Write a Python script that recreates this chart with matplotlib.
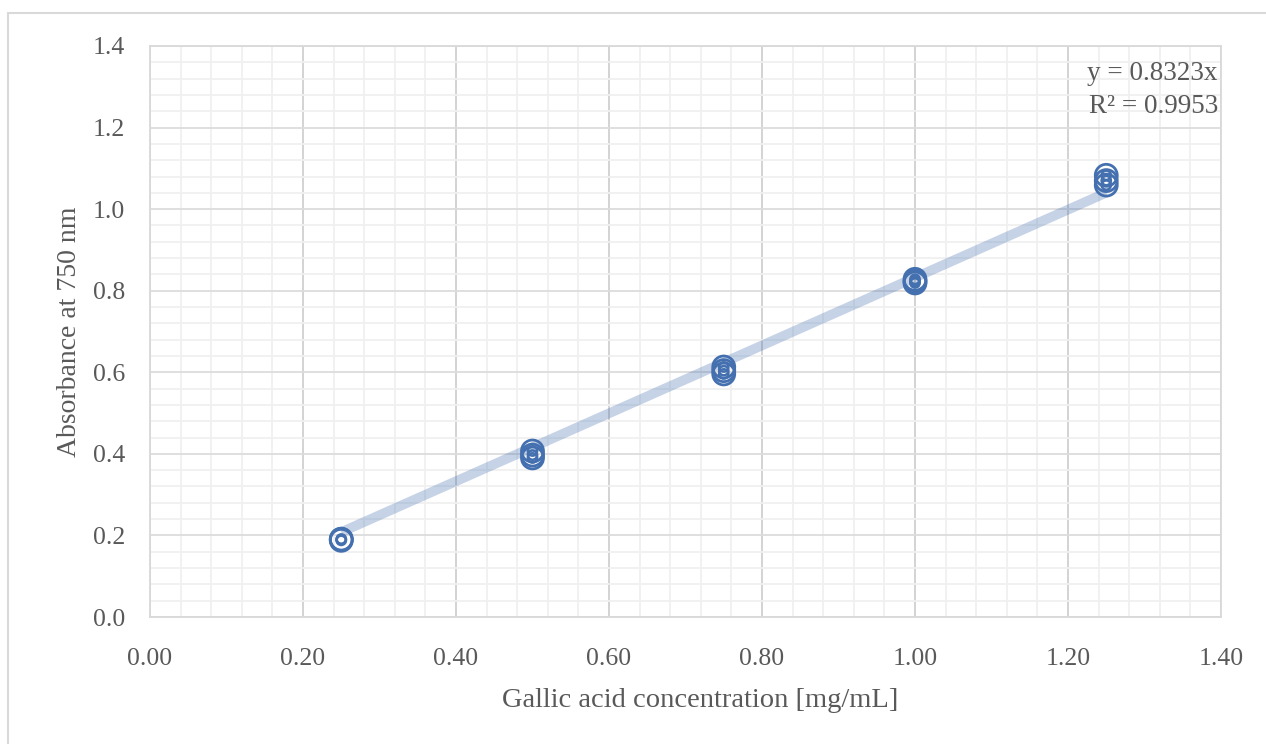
import matplotlib
matplotlib.use("Agg")
import matplotlib.pyplot as plt
from matplotlib.patches import Rectangle
from matplotlib.ticker import MultipleLocator
import numpy as np

# gallic acid standard curve, 3 replicates per level
conc = [0.25, 0.25, 0.25, 0.50, 0.50, 0.50, 0.75, 0.75, 0.75,
        1.00, 1.00, 1.00, 1.25, 1.25, 1.25]
absorb = [0.188, 0.190, 0.191, 0.407, 0.397, 0.390, 0.613, 0.604, 0.596,
          0.828, 0.823, 0.819, 1.083, 1.070, 1.059]
slope = 0.8323
r2 = 0.9953
x_ticks = [0.00, 0.20, 0.40, 0.60, 0.80, 1.00, 1.20, 1.40]
y_ticks = [0.0, 0.2, 0.4, 0.6, 0.8, 1.0, 1.2, 1.4]

plt.rcParams['font.family'] = ['Liberation Serif', 'DejaVu Serif']
txt = '#595959'
blue = '#4470b0'

fig = plt.figure(figsize=(12.66, 7.44), dpi=100)
ax = fig.add_axes([150/1266, 1-617/744, 1071/1266, 571/744])

# outer chart border
fig.patches.append(Rectangle((8/1266, -0.5), 2, 1.5 - 13/744, transform=fig.transFigure,
                             fill=False, edgecolor='#d9d9d9', linewidth=1.5))

ax.set_xlim(0, 1.4)
ax.set_ylim(0, 1.4)
ax.set_xticks(x_ticks)
ax.set_yticks(y_ticks)
ax.set_xticklabels(['%.2f' % v for v in x_ticks])
ax.set_yticklabels(['%.1f' % v for v in y_ticks])
ax.xaxis.set_minor_locator(MultipleLocator(0.04))
ax.yaxis.set_minor_locator(MultipleLocator(0.04))
ax.grid(which='minor', color='#f0f0f0', linewidth=1.3)
ax.grid(which='major', axis='x', color='#d0d0d0', linewidth=1.3)
ax.grid(which='major', axis='y', color='#dcdcdc', linewidth=1.3)
ax.set_axisbelow(True)
for s in ax.spines.values():
    s.set_color('#d9d9d9')
    s.set_linewidth(1.3)
ax.tick_params(which='both', length=0, labelsize=18.5, colors=txt)
ax.tick_params(axis='x', pad=22)
ax.tick_params(axis='y', pad=18)

# trendline through origin
xl = np.array([0.25, 1.25])
ax.plot(xl, slope * xl, color=blue, alpha=0.3, linewidth=7, solid_capstyle='butt', zorder=2)

# bullseye style markers
ax.scatter(conc, absorb, s=250, facecolors='none', edgecolors=blue, linewidths=2.0, zorder=3)
ax.scatter(conc, absorb, s=45, facecolors='none', edgecolors=blue, linewidths=1.8, zorder=3)

ax.text(0.997, 0.951, 'y = %.4fx' % slope, transform=ax.transAxes, ha='right', va='center',
        fontsize=19.5, color=txt)
ax.text(0.997, 0.894, 'R² = %.4f' % r2, transform=ax.transAxes, ha='right', va='center',
        fontsize=19.5, color=txt)

ax.set_xlabel('Gallic acid concentration [mg/mL]', fontsize=20.5, color=txt)
ax.xaxis.set_label_coords(0.514, -0.124)
ax.set_ylabel('Absorbance at 750 nm', fontsize=20, color=txt, labelpad=8)

fig.savefig('out.png', dpi=100)
